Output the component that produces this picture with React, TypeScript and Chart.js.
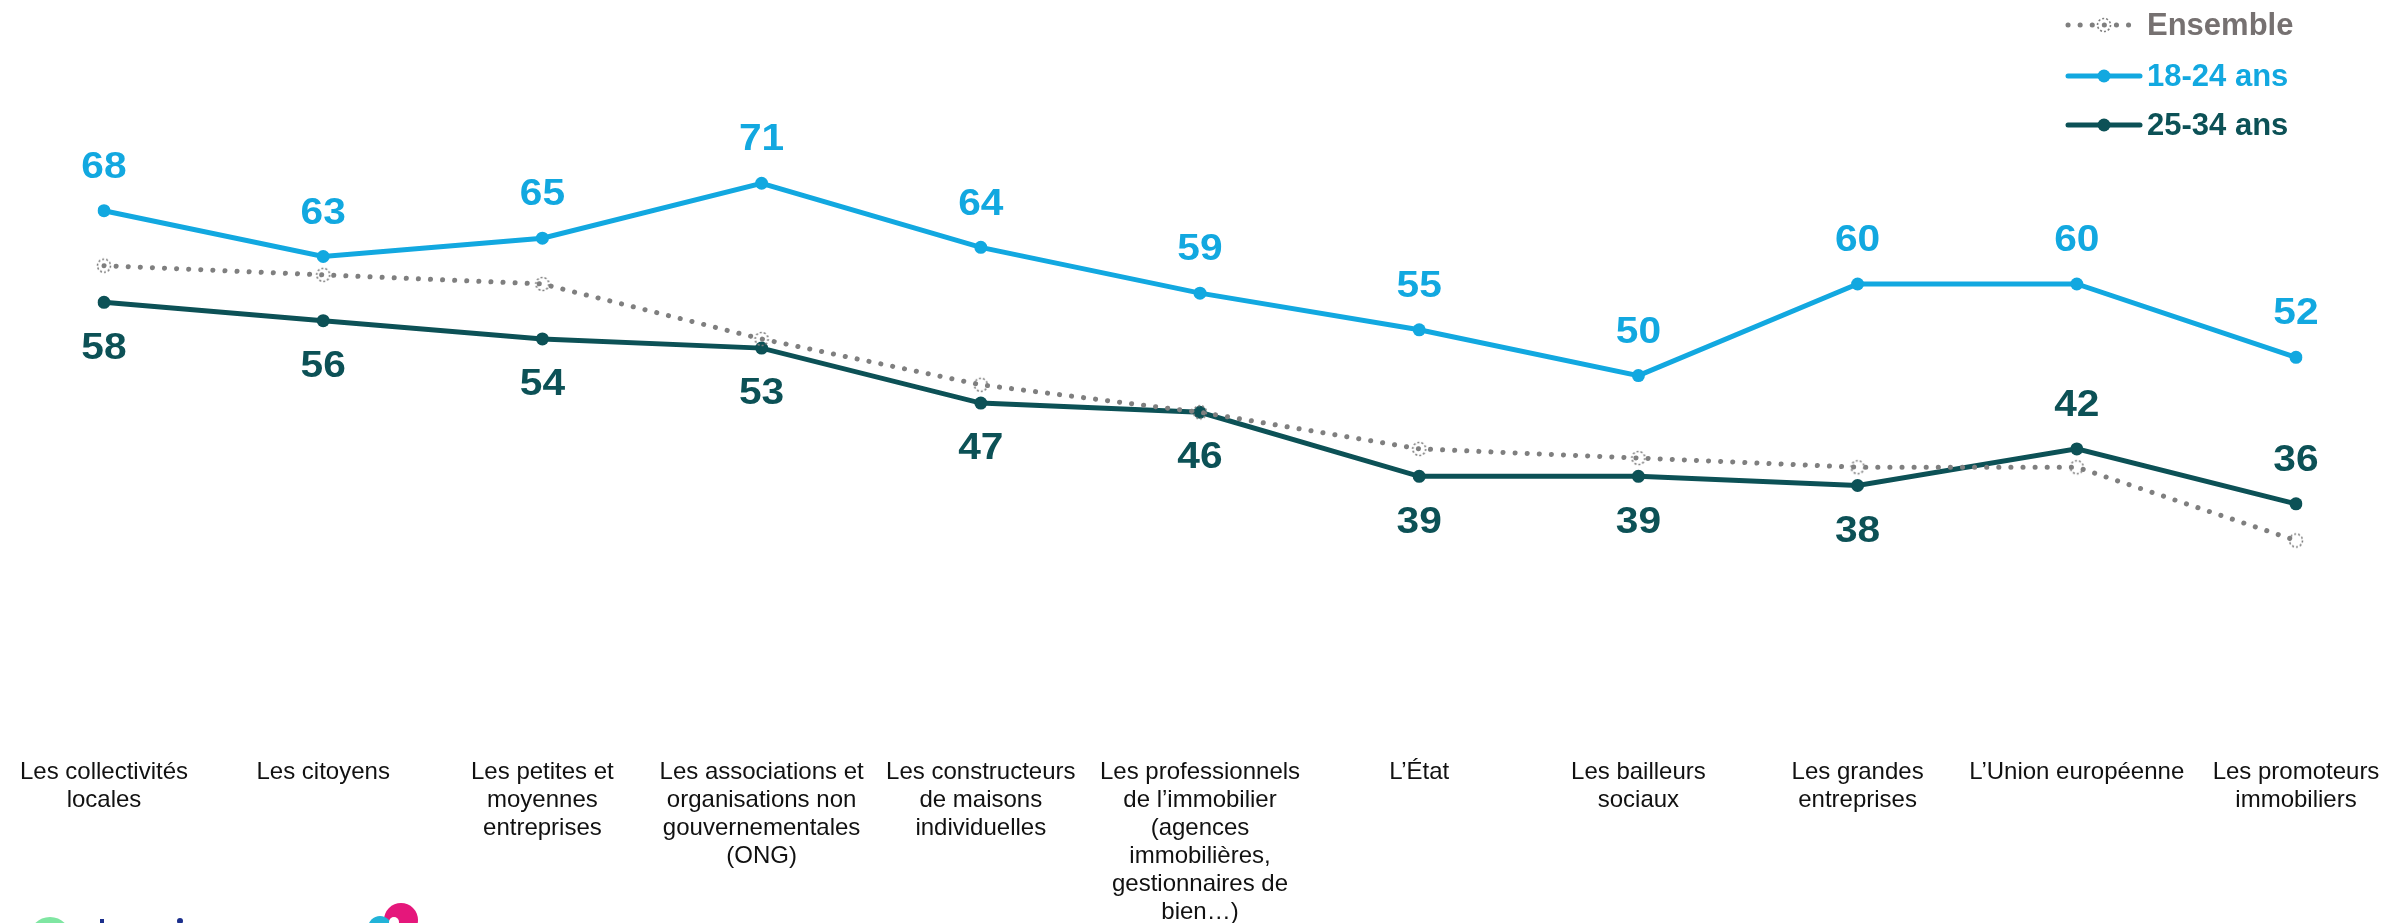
import React, { useEffect, useRef } from "react";
import { Chart, registerables } from "chart.js";
Chart.register(...registerables);

const categories: string[][] = [
  ["Les collectivités", "locales"],
  ["Les citoyens"],
  ["Les petites et", "moyennes", "entreprises"],
  ["Les associations et", "organisations non", "gouvernementales", "(ONG)"],
  ["Les constructeurs", "de maisons", "individuelles"],
  ["Les professionnels", "de l’immobilier", "(agences", "immobilières,", "gestionnaires de", "bien…)"],
  ["L’État"],
  ["Les bailleurs", "sociaux"],
  ["Les grandes", "entreprises"],
  ["L’Union européenne"],
  ["Les promoteurs", "immobiliers"],
];

const ensemble = [62, 61, 60, 54, 49, 46, 42, 41, 40, 40, 32];
const ages1824 = [68, 63, 65, 71, 64, 59, 55, 50, 60, 60, 52];
const ages2534 = [58, 56, 54, 53, 47, 46, 39, 39, 38, 42, 36];
const label2534Above = [false, false, false, false, false, false, false, false, false, true, true];

const seriesNames = ["Ensemble", "18-24 ans", "25-34 ans"];

const BLUE = "#12A8E0";
const TEAL = "#0C5156";
const GREY = "#7F7F7F";
const GREY_TEXT = "#767171";
const FONT = '"Liberation Sans", Arial, Helvetica, sans-serif';

function makeDottedCircle(): HTMLCanvasElement {
  const c = document.createElement("canvas");
  c.width = 18;
  c.height = 18;
  const g = c.getContext("2d")!;
  g.strokeStyle = GREY;
  g.lineWidth = 1.6;
  g.setLineDash([2, 2]);
  g.beginPath();
  g.arc(9, 9, 6.5, 0, Math.PI * 2);
  g.stroke();
  return c;
}

export default function App() {
  const ref = useRef<HTMLCanvasElement | null>(null);

  useEffect(() => {
    document.body.style.margin = "0";
    const canvas = ref.current!;
    const dotted = makeDottedCircle();

    const valueLabels = {
      id: "valueLabels",
      afterDatasetsDraw(chart: any) {
        const ctx = chart.ctx;
        ctx.save();
        ctx.font = `bold 37px ${FONT}`;
        ctx.textAlign = "center";
        ctx.textBaseline = "middle";
        [1, 2].forEach((di) => {
          const meta = chart.getDatasetMeta(di);
          meta.data.forEach((pt: any, i: number) => {
            const v = chart.data.datasets[di].data[i];
            const above = di === 1 ? true : label2534Above[i];
            ctx.fillStyle = di === 1 ? BLUE : TEAL;
            ctx.save();
            ctx.translate(pt.x, pt.y + (above ? -43 : 46));
            ctx.scale(1.1, 1);
            ctx.fillText(String(v), 0, 0);
            ctx.restore();
          });
        });
        ctx.restore();
      },
    };

    const legendAndLogos = {
      id: "customLegend",
      afterDraw(chart: any) {
        const ctx = chart.ctx;
        ctx.save();
        const rows = [25, 76, 125];
        const x0 = 2068;
        const x1 = 2140;
        const xm = 2104;
        // Ensemble
        ctx.strokeStyle = GREY;
        ctx.lineWidth = 5;
        ctx.lineCap = "round";
        ctx.setLineDash([0.1, 12]);
        ctx.beginPath();
        ctx.moveTo(x0, rows[0]);
        ctx.lineTo(x1, rows[0]);
        ctx.stroke();
        ctx.setLineDash([]);
        ctx.drawImage(dotted, xm - 9, rows[0] - 9);
        // 18-24 and 25-34
        [BLUE, TEAL].forEach((col, k) => {
          const y = rows[k + 1];
          ctx.strokeStyle = col;
          ctx.lineWidth = 5;
          ctx.lineCap = "round";
          ctx.beginPath();
          ctx.moveTo(x0, y);
          ctx.lineTo(x1, y);
          ctx.stroke();
          ctx.fillStyle = col;
          ctx.beginPath();
          ctx.arc(xm, y, 6.5, 0, Math.PI * 2);
          ctx.fill();
        });
        ctx.font = `bold 31px ${FONT}`;
        ctx.textAlign = "left";
        ctx.textBaseline = "middle";
        [GREY_TEXT, BLUE, TEAL].forEach((col, k) => {
          ctx.fillStyle = col;
          ctx.fillText(seriesNames[k], 2147, rows[k] + 1);
        });

        // logo fragments at the bottom-left edge
        ctx.fillStyle = "#7FE6A2";
        ctx.beginPath();
        ctx.arc(50, 938, 21, 0, Math.PI * 2);
        ctx.fill();
        ctx.fillStyle = "#1B2F8C";
        ctx.fillRect(100, 919, 4, 6);
        ctx.beginPath();
        ctx.arc(180, 921, 3, 0, Math.PI * 2);
        ctx.fill();
        ctx.fillStyle = "#E5177B";
        ctx.beginPath();
        ctx.arc(401, 920, 17, 0, Math.PI * 2);
        ctx.fill();
        ctx.fillStyle = "#22B3D8";
        ctx.beginPath();
        ctx.arc(380, 928, 12, 0, Math.PI * 2);
        ctx.fill();
        ctx.fillStyle = "#FFFFFF";
        ctx.beginPath();
        ctx.arc(394, 922, 5, 0, Math.PI * 2);
        ctx.fill();
        ctx.restore();
      },
    };

    const chart = new Chart(canvas, {
      type: "line",
      data: {
        labels: categories,
        datasets: [
          {
            label: seriesNames[0],
            data: ensemble,
            borderColor: GREY,
            borderWidth: 5,
            borderDash: [0.1, 12],
            borderCapStyle: "round",
            pointStyle: dotted as any,
            pointRadius: 9,
            pointHoverRadius: 9,
            tension: 0,
            fill: false,
          },
          {
            label: seriesNames[1],
            data: ages1824,
            borderColor: BLUE,
            backgroundColor: BLUE,
            borderWidth: 5,
            pointRadius: 6.5,
            pointBackgroundColor: BLUE,
            pointBorderWidth: 0,
            tension: 0,
            fill: false,
          },
          {
            label: seriesNames[2],
            data: ages2534,
            borderColor: TEAL,
            backgroundColor: TEAL,
            borderWidth: 5,
            pointRadius: 6.5,
            pointBackgroundColor: TEAL,
            pointBorderWidth: 0,
            tension: 0,
            fill: false,
          },
        ],
      },
      options: {
        responsive: false,
        animation: false,
        layout: { padding: { top: 55, left: 104, right: 98, bottom: 0 } },
        plugins: {
          legend: { display: false },
          tooltip: { enabled: false },
        },
        scales: {
          x: {
            offset: false,
            grid: { display: false },
            border: { display: false },
            afterFit: (scale: any) => {
              scale.height = 181;
            },
            ticks: {
              autoSkip: false,
              maxRotation: 0,
              minRotation: 0,
              padding: 8,
              color: "#111111",
              font: { family: FONT, size: 24, lineHeight: 1.17 },
            },
          },
          y: {
            display: false,
            min: 10,
            max: 85,
          },
        },
      },
      plugins: [valueLabels, legendAndLogos],
    });

    return () => chart.destroy();
  }, []);

  return (
    <div style={{ width: 2394, height: 923, position: "relative" }}>
      <canvas ref={ref} width={2394} height={923} style={{ width: 2394, height: 923, display: "block" }} />
    </div>
  );
}
